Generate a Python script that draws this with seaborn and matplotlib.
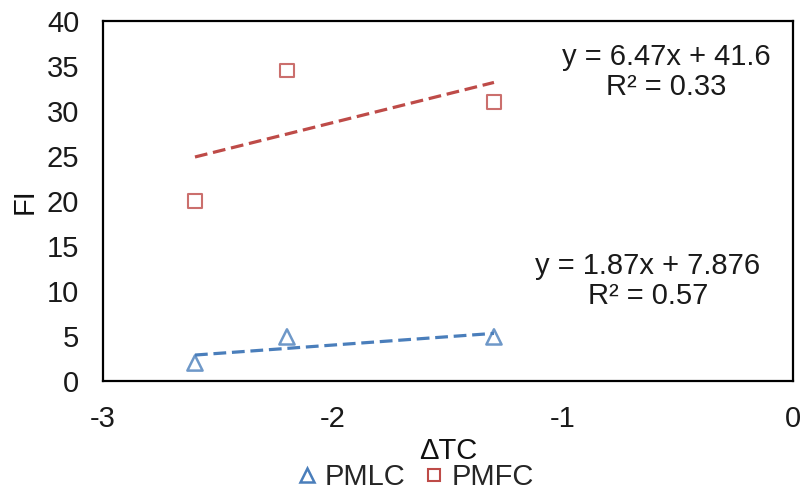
import numpy as np
import pandas as pd
import seaborn as sns
import matplotlib
matplotlib.use("Agg")
import matplotlib.pyplot as plt
from matplotlib.lines import Line2D

# data
dtc = [-2.6, -2.2, -1.3]
fi_pmlc = [2.0, 4.9, 4.9]
fi_pmfc = [20.0, 34.5, 31.0]
eq_pmlc = "y = 1.87x + 7.876\nR² = 0.57"
eq_pmfc = "y = 6.47x + 41.6\nR² = 0.33"

df = pd.DataFrame({"dtc": dtc, "PMLC": fi_pmlc, "PMFC": fi_pmfc})

sns.set_style("white")
plt.rcParams["font.family"] = ["Liberation Sans", "DejaVu Sans"]
plt.rcParams["font.size"] = 21
plt.rcParams["axes.unicode_minus"] = False

blue = "#4a7ebb"
red = "#be4b48"

fig = plt.figure(figsize=(8.07, 4.95), dpi=100)
ax = fig.add_axes([0.1276, 0.2303, 0.855, 0.7273])

sns.regplot(data=df, x="dtc", y="PMLC", ax=ax, ci=None, color=blue, marker="^",
            scatter_kws={"facecolors": "none", "s": 120, "linewidths": 1.8, "zorder": 3},
            line_kws={"linestyle": (0, (4, 1.8)), "linewidth": 2.3})
sns.regplot(data=df, x="dtc", y="PMFC", ax=ax, ci=None, color=red, marker="s",
            scatter_kws={"facecolors": "none", "s": 100, "linewidths": 1.5, "zorder": 3},
            line_kws={"linestyle": (0, (4, 1.8)), "linewidth": 2.3})

ax.set_xlim(-3, 0)
ax.set_ylim(0, 40)
ax.set_xticks([-3, -2, -1, 0])
ax.set_yticks(range(0, 41, 5))
ax.tick_params(axis="y", direction="in", length=5, width=1.2, color="black",
               labelsize=21, labelcolor="#1a1a1a", pad=17)
ax.tick_params(axis="x", direction="in", length=5, width=1.2, color="black",
               labelsize=21, labelcolor="#1a1a1a", pad=17)
for s in ax.spines.values():
    s.set_visible(True)
    s.set_color("black")
    s.set_linewidth(1.6)

ax.set_xlabel("ΔTC", fontsize=21, labelpad=3, color="#111111")
ax.set_ylabel("FI", fontsize=21, labelpad=6, color="#111111")

ax.text(-0.55, 34.3, eq_pmfc, ha="center", va="center", fontsize=21, linespacing=1.1, color="#1a1a1a")
ax.text(-0.63, 11.1, eq_pmlc, ha="center", va="center", fontsize=21, linespacing=1.1, color="#1a1a1a")

handles = [
    Line2D([], [], ls="none", marker="^", markersize=10, markerfacecolor="none",
           markeredgecolor=blue, markeredgewidth=1.8),
    Line2D([], [], ls="none", marker="s", markersize=9, markerfacecolor="none",
           markeredgecolor=red, markeredgewidth=1.5),
]
fig.legend(handles, ["PMLC", "PMFC"], loc="center",
           bbox_to_anchor=(0.512, 0.036), ncol=2, frameon=False, fontsize=21,
           handletextpad=0.1, columnspacing=0.5, handlelength=1.0, borderpad=0)

fig.savefig("out.png", dpi=100)
